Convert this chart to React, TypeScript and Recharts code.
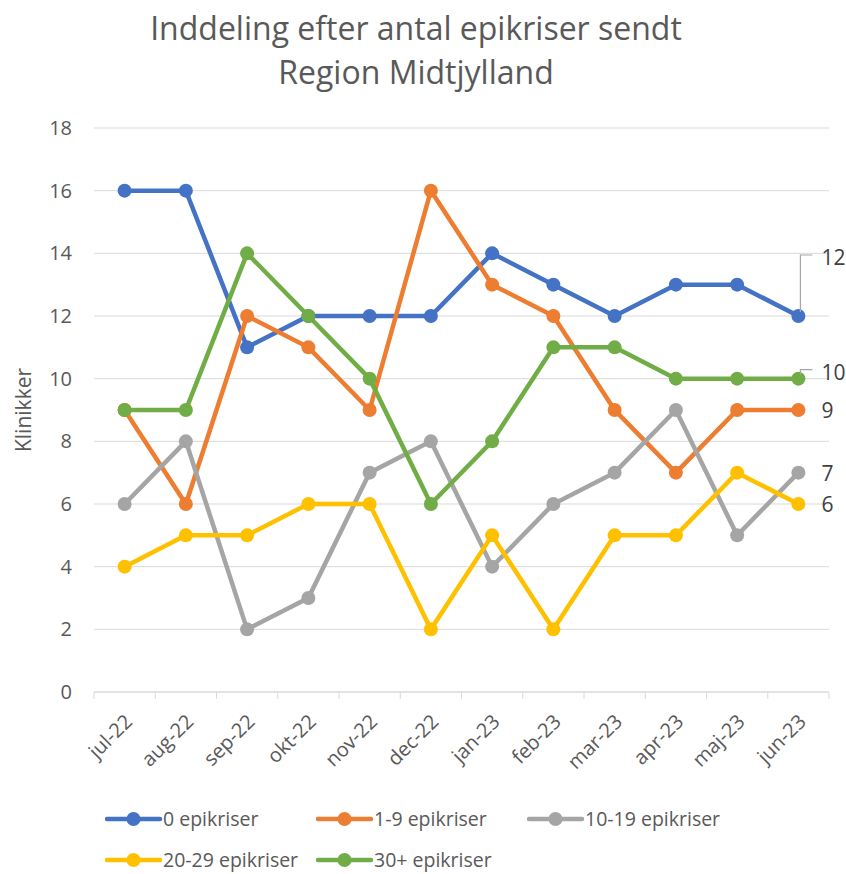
import React from 'react';
import { LineChart, Line, XAxis, YAxis, CartesianGrid, LabelList } from 'recharts';

const months = ['jul-22', 'aug-22', 'sep-22', 'okt-22', 'nov-22', 'dec-22', 'jan-23', 'feb-23', 'mar-23', 'apr-23', 'maj-23', 'jun-23'];
const zero = [16, 16, 11, 12, 12, 12, 14, 13, 12, 13, 13, 12];
const oneToNine = [9, 6, 12, 11, 9, 16, 13, 12, 9, 7, 9, 9];
const tenToNineteen = [6, 8, 2, 3, 7, 8, 4, 6, 7, 9, 5, 7];
const twentyToTwentyNine = [4, 5, 5, 6, 6, 2, 5, 2, 5, 5, 7, 6];
const thirtyPlus = [9, 9, 14, 12, 10, 6, 8, 11, 11, 10, 10, 10];
const yTicks = [0, 2, 4, 6, 8, 10, 12, 14, 16, 18];

const series = [
  { key: 'zero', name: '0 epikriser', color: '#4472C4', lift: 59 },
  { key: 'oneToNine', name: '1-9 epikriser', color: '#ED7D31', lift: 0 },
  { key: 'tenToNineteen', name: '10-19 epikriser', color: '#A5A5A5', lift: 0 },
  { key: 'twentyToTwentyNine', name: '20-29 epikriser', color: '#FFC000', lift: 0 },
  { key: 'thirtyPlus', name: '30+ epikriser', color: '#70AD47', lift: 7 },
];

const data = months.map((m, i) => ({
  month: m,
  zero: zero[i],
  oneToNine: oneToNine[i],
  tenToNineteen: tenToNineteen[i],
  twentyToTwentyNine: twentyToTwentyNine[i],
  thirtyPlus: thirtyPlus[i],
}));

const font = 'Open Sans, sans-serif';
const textColor = '#595959';
const BAND = 61.2;

const MonthTick = (props: any) => {
  const { x, y, payload, index } = props;
  const top = y - 8;
  const ax = x - 3;
  const ay = top + 19;
  return (
    <g>
      <line x1={x - BAND / 2} y1={top} x2={x - BAND / 2} y2={top + 7} stroke="#D9D9D9" />
      {index === months.length - 1 && (
        <line x1={x + BAND / 2} y1={top} x2={x + BAND / 2} y2={top + 7} stroke="#D9D9D9" />
      )}
      <text
        x={ax}
        y={ay}
        transform={`rotate(-45, ${ax}, ${ay})`}
        textAnchor="end"
        dominantBaseline="hanging"
        fontSize={20}
        fill={textColor}
        fontFamily={font}
      >
        {payload.value}
      </text>
    </g>
  );
};

const endLabel = (lift: number) => (props: any) => {
  const { x, y, value, index } = props;
  if (index !== months.length - 1) return null;
  const ly = y - lift;
  return (
    <g>
      {lift > 0 && (
        <polyline
          points={`${x + 2},${y - 4} ${x + 2},${ly - 2} ${x + 14},${ly - 2}`}
          fill="none"
          stroke="#A6A6A6"
          strokeWidth={1.2}
        />
      )}
      <text x={x + 23} y={ly} dominantBaseline="central" fontSize={21} fill="#404040" fontFamily={font}>
        {value}
      </text>
    </g>
  );
};

const LegendItem = ({ name, color }: { name: string; color: string }) => (
  <div style={{ display: 'flex', alignItems: 'center', width: 211, height: 20, whiteSpace: 'nowrap' }}>
    <svg width={58} height={16} style={{ flex: 'none' }}>
      <line x1={2} y1={8} x2={55} y2={8} stroke={color} strokeWidth={4.5} strokeLinecap="round" />
      <circle cx={28.5} cy={8} r={7} fill={color} />
    </svg>
    <span style={{ fontSize: 19.5, lineHeight: '20px', color: textColor, fontFamily: font }}>{name}</span>
  </div>
);

export default function App() {
  return (
    <div style={{ position: 'absolute', left: 0, top: 0, width: 846, height: 874, background: '#fff', overflow: 'hidden' }}>
      <div
        style={{
          position: 'absolute',
          top: 6,
          left: 0,
          width: 832,
          textAlign: 'center',
          fontFamily: font,
          fontSize: 32,
          lineHeight: '44px',
          color: textColor,
        }}
      >
        Inddeling efter antal epikriser sendt
        <br />
        Region Midtjylland
      </div>
      <LineChart width={846} height={874} data={data} margin={{ top: 128, right: 17, bottom: 102, left: 34 }}>
        <CartesianGrid vertical={false} stroke="#D9D9D9" />
        <XAxis
          dataKey="month"
          stroke="#D9D9D9"
          tickLine={false}
          tick={<MonthTick />}
          interval={0}
          height={80}
          padding={{ left: BAND / 2, right: BAND / 2 }}
        />
        <YAxis
          domain={[0, 18]}
          ticks={yTicks}
          width={60}
          axisLine={false}
          tickLine={false}
          tickMargin={16}
          tick={{ fontSize: 20, fill: textColor, fontFamily: font }}
          label={{
            value: 'Klinikker',
            angle: -90,
            position: 'insideLeft',
            dx: -15,
            style: { fontSize: 21, fill: textColor, fontFamily: font, textAnchor: 'middle' },
          }}
        />
        {series.map((s) => (
          <Line
            key={s.key}
            dataKey={s.key}
            name={s.name}
            type="linear"
            stroke={s.color}
            strokeWidth={4.5}
            dot={{ r: 7, fill: s.color, stroke: s.color, strokeWidth: 0 }}
            activeDot={false}
            isAnimationActive={false}
          >
            <LabelList dataKey={s.key} content={endLabel(s.lift)} />
          </Line>
        ))}
      </LineChart>
      <div
        style={{
          position: 'absolute',
          left: 105,
          top: 809,
          display: 'flex',
          flexWrap: 'wrap',
          width: 640,
          rowGap: 21,
        }}
      >
        {series.map((s) => (
          <LegendItem key={s.key} name={s.name} color={s.color} />
        ))}
      </div>
    </div>
  );
}
